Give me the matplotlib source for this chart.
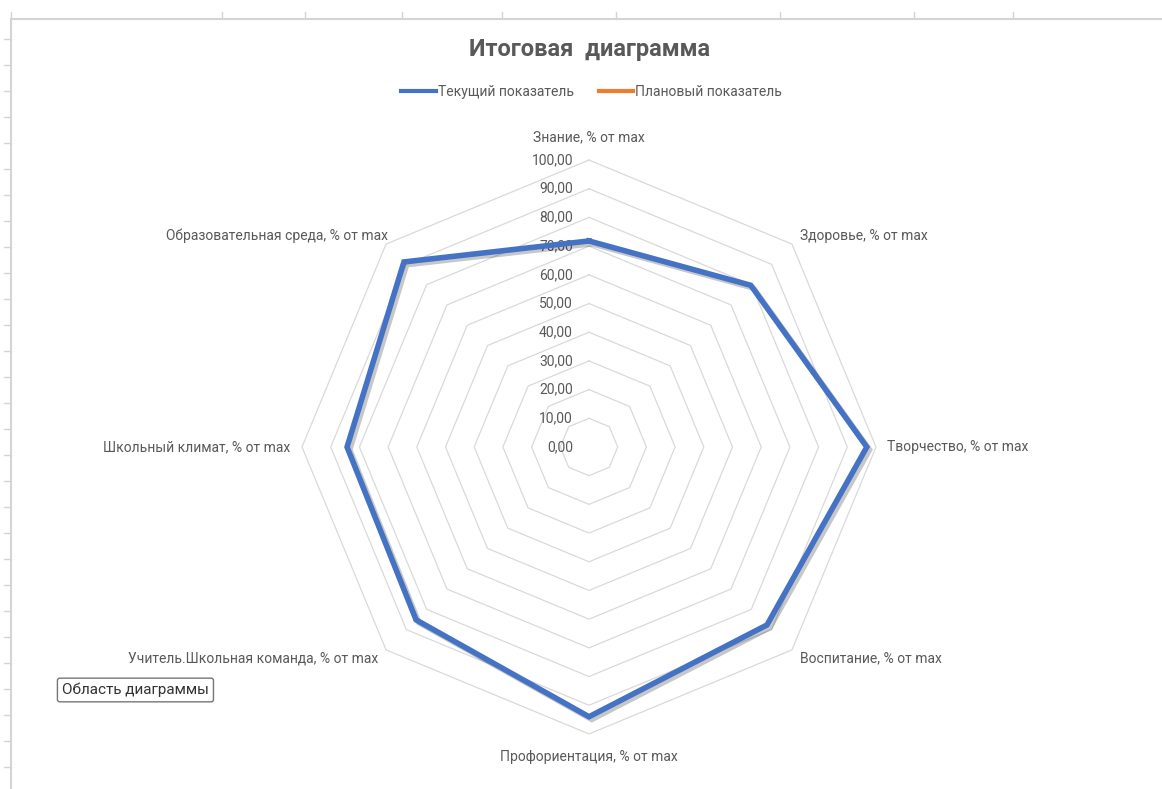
import numpy as np
import matplotlib.pyplot as plt
import matplotlib.patheffects as pe
from matplotlib.lines import Line2D

plt.rcParams['font.family'] = ['Roboto', 'DejaVu Sans']

# Chart data
categories = [
    "Знание, % от max",
    "Здоровье, % от max",
    "Творчество, % от max",
    "Воспитание, % от max",
    "Профориентация, % от max",
    "Учитель.Школьная команда, % от max",
    "Школьный климат, % от max",
    "Образовательная среда, % от max",
]
current_values = [71.8, 79.7, 96.8, 87.7, 94.0, 85.2, 84.3, 91.2]
plan_values = []  # planned series has no visible values
ring_levels = [0, 10, 20, 30, 40, 50, 60, 70, 80, 90, 100]
ring_labels = [f"{v:.2f}".replace('.', ',') for v in ring_levels]
series_names = ["Текущий показатель", "Плановый показатель"]

BLUE = '#4472C4'
ORANGE = '#ED7D31'
GRID = '#D9D9D9'
TEXT = '#595959'

n = len(categories)
theta = np.deg2rad(90 - 360.0 / n * np.arange(n))


def closed(vals):
    vals = np.asarray(vals, dtype=float)
    x = vals * np.cos(theta)
    y = vals * np.sin(theta)
    return np.append(x, x[0]), np.append(y, y[0])


fig = plt.figure(figsize=(11.62, 7.89), dpi=100)
ax = fig.add_axes([239 / 1162, 12 / 789, 700 / 1162, 660 / 789])
ax.set_xlim(-121.95, 121.95)
ax.set_ylim(-115, 115)
ax.axis('off')

# octagonal grid rings
for lvl in ring_levels[1:]:
    gx, gy = closed([lvl] * n)
    ax.plot(gx, gy, color=GRID, lw=0.9, zorder=1)

# value axis labels
for lvl, lab in zip(ring_levels, ring_labels):
    ax.text(-5.6, lvl, lab, ha='right', va='center', fontsize=10, color=TEXT, zorder=2)

# category labels
for ang, cat in zip(theta, categories):
    c, s = np.cos(ang), np.sin(ang)
    if abs(c) < 0.1:
        ax.text(0, 108 * np.sign(s), cat, ha='center', va='center', fontsize=10, color=TEXT)
    else:
        ha = 'left' if c > 0 else 'right'
        r = 99 if (c < 0 and s > 0) else 104
        ax.text(r * c, 104 * s, cat, ha=ha, va='center', fontsize=10, color=TEXT)

# series
cx, cy = closed(current_values)
ax.plot(cx, cy, color=BLUE, lw=4, solid_joinstyle='miter', zorder=4,
        path_effects=[pe.SimpleLineShadow(offset=(2, -2), alpha=0.22, shadow_color='black'),
                      pe.Normal()])
if plan_values:
    px, py = closed(plan_values)
    ax.plot(px, py, color=ORANGE, lw=4, zorder=3)

fig.text(0.507, 0.937, "Итоговая  диаграмма", ha='center', va='center',
         fontsize=17, fontweight='bold', color=TEXT)

handles = [Line2D([], [], color=BLUE, lw=3), Line2D([], [], color=ORANGE, lw=3)]
fig.legend(handles, series_names, loc='center', bbox_to_anchor=(0.509, 0.883), ncol=2,
           frameon=False, fontsize=10, labelcolor=TEXT, handlelength=2.5,
           handletextpad=0.1, columnspacing=1.8)

# worksheet frame around the chart area
fw, fh = 1162, 789
fig.add_artist(Line2D([11 / fw, 1], [1 - 19 / fh, 1 - 19 / fh], color='#D4D4D4', lw=1.5))
fig.add_artist(Line2D([11 / fw, 11 / fw], [0, 1 - 19 / fh], color='#D4D4D4', lw=1.5))
for tx in [11, 222, 305, 402, 502, 616, 780, 914, 1013]:
    fig.add_artist(Line2D([tx / fw, tx / fw], [1 - 12 / fh, 1 - 19 / fh], color='#D4D4D4', lw=1))
for ty in range(39, 789, 26):
    fig.add_artist(Line2D([4 / fw, 11 / fw], [1 - ty / fh, 1 - ty / fh], color='#D4D4D4', lw=1))

# tooltip box left by the spreadsheet
fig.text(62 / fw, 1 - 690 / fh, "Область диаграммы", ha='left', va='center', fontsize=11,
         color='#333333',
         bbox=dict(boxstyle='round,pad=0.3,rounding_size=0.15', fc='white', ec='#767676', lw=1))

fig.savefig('out.png', dpi=100)
